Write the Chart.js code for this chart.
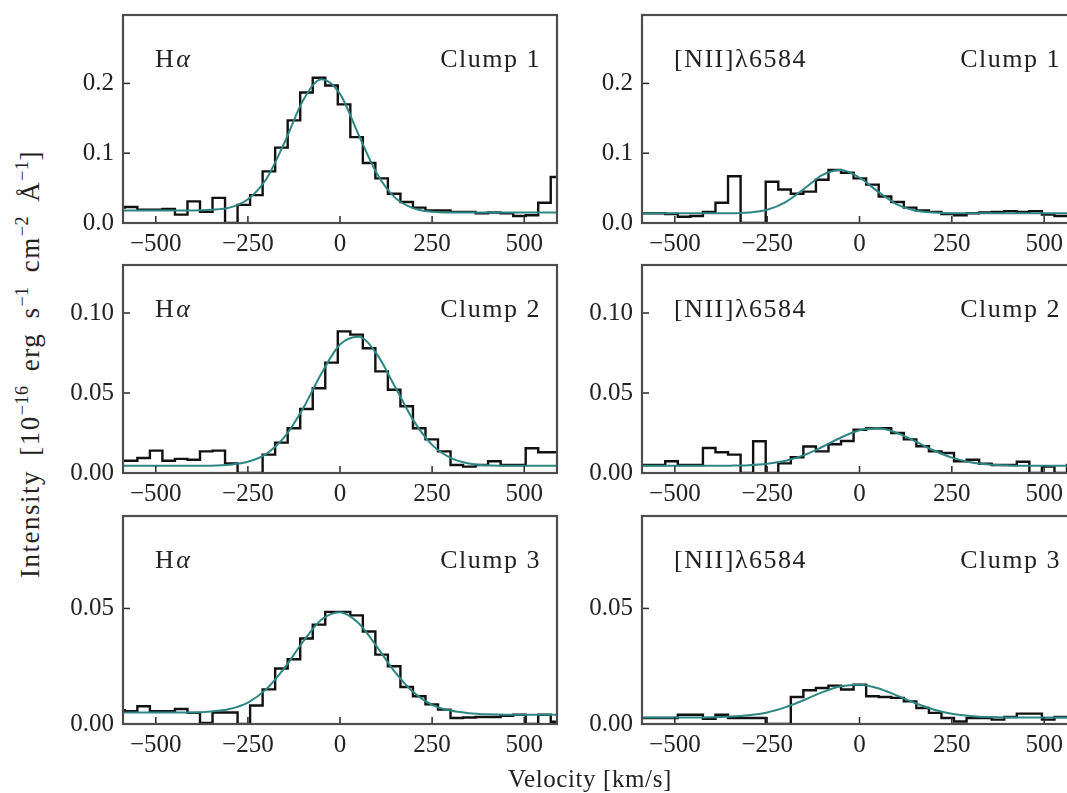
<!DOCTYPE html>
<html>
<head>
<meta charset="utf-8">
<script src="https://cdn.jsdelivr.net/npm/chart.js@4.4.1/dist/chart.umd.min.js"></script>
<style>
  html, body { margin: 0; padding: 0; background: #fff; overflow: hidden; }
  #fig { position: relative; width: 1067px; height: 793px; overflow: hidden; background: #fff; }
  #fig canvas { position: absolute; }
  .title { position: absolute; font-family: 'Liberation Serif', serif; font-size: 25px; color: #222; white-space: nowrap; }
  #ytitle { left: 30px; top: 364px; font-size: 27px; letter-spacing: 1.5px; word-spacing: 6px; transform: translate(-50%, -50%) rotate(-90deg); }
  #xtitle { left: 590px; top: 779px; letter-spacing: 0.6px; transform: translate(-50%, -50%); }
  .title sup { font-size: 18px; vertical-align: 11px; line-height: 0; letter-spacing: 0.5px; }
</style>
</head>
<body>
<div id="fig">
  <canvas id="c1"></canvas>
  <canvas id="c2"></canvas>
  <canvas id="c3"></canvas>
  <canvas id="c4"></canvas>
  <canvas id="c5"></canvas>
  <canvas id="c6"></canvas>
  <div class="title" id="ytitle">Intensity [10<sup>−16</sup> erg s<sup>−1</sup> cm<sup>−2</sup> Å<sup>−1</sup>]</div>
  <div class="title" id="xtitle">Velocity [km/s]</div>
</div>
<script>
// bin edges (km/s) of the spectra, Halpha column and [NII] column
var haEdges = [-618, -584, -550, -516, -482, -448, -414, -380, -346, -312, -278, -244, -210, -176, -142, -108, -74, -40, -6, 28, 62, 96, 130, 164, 198, 232, 266, 300, 334, 368, 402, 436, 470, 504, 538, 572, 606];
var niiEdges = [-628, -594, -560, -526, -492, -458, -424, -390, -356, -322, -288, -254, -220, -186, -152, -118, -84, -50, -16, 18, 52, 86, 120, 154, 188, 222, 256, 290, 324, 358, 392, 426, 460, 494, 528, 562, 596];

// measured intensity per bin
var haClump1 = [0.022, 0.023, 0.019, 0.019, 0.020, 0.012, 0.031, 0.016, 0.036, 0.0, 0.026, 0.040, 0.074, 0.108, 0.147, 0.187, 0.208, 0.197, 0.170, 0.123, 0.086, 0.064, 0.042, 0.030, 0.022, 0.018, 0.018, 0.016, 0.016, 0.014, 0.015, 0.014, 0.010, 0.011, 0.029, 0.066];
var niiClump1 = [0.013, 0.014, 0.014, 0.013, 0.009, 0.010, 0.016, 0.029, 0.067, 0.0, 0.0, 0.059, 0.048, 0.042, 0.045, 0.062, 0.076, 0.072, 0.064, 0.055, 0.038, 0.030, 0.022, 0.018, 0.016, 0.013, 0.011, 0.014, 0.015, 0.016, 0.017, 0.016, 0.017, 0.012, 0.010, 0.010];
var haClump2 = [0.0077, 0.0077, 0.0094, 0.014, 0.0077, 0.0088, 0.0083, 0.0135, 0.014, 0.006, 0.0, 0.0, 0.0115, 0.019, 0.028, 0.040, 0.053, 0.069, 0.0885, 0.0865, 0.078, 0.0635, 0.052, 0.0417, 0.028, 0.021, 0.0135, 0.005, 0.004, 0.005, 0.0073, 0.005, 0.005, 0.0155, 0.013, 0.013];
var niiClump2 = [0.005, 0.005, 0.005, 0.0073, 0.005, 0.005, 0.0156, 0.013, 0.0115, 0.0, 0.0198, 0.0, 0.006, 0.0098, 0.0166, 0.0135, 0.018, 0.020, 0.027, 0.028, 0.028, 0.025, 0.021, 0.0167, 0.0135, 0.0125, 0.0073, 0.0083, 0.0058, 0.005, 0.005, 0.007, 0.0, 0.004, 0.0, 0.005];
var haClump3 = [0.006, 0.0055, 0.0077, 0.0055, 0.0055, 0.0065, 0.0048, 0.0005, 0.005, 0.005, 0.0, 0.008, 0.015, 0.024, 0.028, 0.037, 0.043, 0.0485, 0.0485, 0.047, 0.040, 0.030, 0.025, 0.016, 0.012, 0.0085, 0.0062, 0.0026, 0.0028, 0.003, 0.003, 0.0035, 0.004, 0.0, 0.004, 0.001];
var niiClump3 = [0.0026, 0.0026, 0.0026, 0.0026, 0.004, 0.004, 0.0022, 0.004, 0.0026, 0.0026, 0.0026, 0.0, 0.0, 0.0117, 0.0146, 0.0156, 0.0166, 0.0149, 0.017, 0.012, 0.0117, 0.0113, 0.0098, 0.0069, 0.0048, 0.0026, 0.0011, 0.0026, 0.0026, 0.0019, 0.003, 0.0045, 0.0045, 0.0019, 0.003, 0.003];

// fitted profiles, read at these velocities
var fitVel = [-600, -550, -500, -450, -400, -350, -300, -250, -200, -150, -100, -50, 0, 50, 100, 150, 200, 250, 300, 350, 400, 450, 500, 550, 600];
var haFit1 = [0.018, 0.018, 0.018, 0.018, 0.018, 0.019, 0.022, 0.034, 0.063, 0.116, 0.176, 0.206, 0.185, 0.127, 0.071, 0.036, 0.021, 0.016, 0.015, 0.015, 0.015, 0.015, 0.015, 0.015, 0.015];
var niiFit1 = [0.014, 0.014, 0.014, 0.014, 0.014, 0.014, 0.015, 0.019, 0.030, 0.049, 0.069, 0.076, 0.065, 0.045, 0.027, 0.018, 0.015, 0.014, 0.014, 0.014, 0.014, 0.014, 0.014, 0.014, 0.014];
var haFit2 = [0.0045, 0.0045, 0.0045, 0.0045, 0.0045, 0.0046, 0.0052, 0.007, 0.012, 0.0227, 0.0405, 0.0624, 0.0803, 0.0852, 0.0743, 0.0536, 0.0326, 0.0176, 0.0095, 0.006, 0.0048, 0.0045, 0.0045, 0.0045, 0.0045];
var niiFit2 = [0.0045, 0.0045, 0.0045, 0.0045, 0.0045, 0.0046, 0.0049, 0.0058, 0.0077, 0.0112, 0.0164, 0.0222, 0.0267, 0.0279, 0.0252, 0.0199, 0.0142, 0.0096, 0.0067, 0.0053, 0.0048, 0.0045, 0.0045, 0.0045, 0.0045];
var haFit3 = [0.005, 0.005, 0.005, 0.005, 0.005, 0.0054, 0.0065, 0.0093, 0.0151, 0.0244, 0.0357, 0.0452, 0.0484, 0.0437, 0.0335, 0.0223, 0.0136, 0.0083, 0.0058, 0.0047, 0.0042, 0.004, 0.004, 0.004, 0.004];
var niiFit3 = [0.0028, 0.0028, 0.0028, 0.0028, 0.0029, 0.0032, 0.0038, 0.005, 0.0073, 0.0104, 0.0138, 0.0163, 0.017, 0.0155, 0.0124, 0.0091, 0.0063, 0.0044, 0.0035, 0.003, 0.0028, 0.0028, 0.0028, 0.0028, 0.0028];

var lineNames = ['Hα', '[NII]λ6584'];
var clumpNames = ['Clump 1', 'Clump 2', 'Clump 3'];

// axis limits per row
var rowMax = [0.298, 0.13, 0.09];
var rowStep = [0.1, 0.05, 0.05];
var rowDigits = [1, 2, 2];

// page layout
var colLeft = [123, 642];
var plotW = [434, 435];
var rowTop = [15, 265, 516];
var plotH = 208;
var yW = 70, xH = 42, pad = 2;

var panels = [
  { id: 'c1', col: 0, row: 0, edges: haEdges, hist: haClump1, fit: haFit1 },
  { id: 'c2', col: 1, row: 0, edges: niiEdges, hist: niiClump1, fit: niiFit1 },
  { id: 'c3', col: 0, row: 1, edges: haEdges, hist: haClump2, fit: haFit2 },
  { id: 'c4', col: 1, row: 1, edges: niiEdges, hist: niiClump2, fit: niiFit2 },
  { id: 'c5', col: 0, row: 2, edges: haEdges, hist: haClump3, fit: haFit3 },
  { id: 'c6', col: 1, row: 2, edges: niiEdges, hist: niiClump3, fit: niiFit3 }
];

Chart.defaults.font.family = "'Liberation Serif', serif";
Chart.defaults.font.size = 25;
Chart.defaults.color = '#222';

// frame, inward ticks and panel labels
var panelDeco = {
  id: 'panelDeco',
  afterDatasetsDraw: function(chart) {
    var ctx = chart.ctx, a = chart.chartArea;
    var sx = chart.scales.x, sy = chart.scales.y;
    var o = chart.options.plugins.panelDeco;
    ctx.save();
    ctx.strokeStyle = '#2a2a2a';
    ctx.lineWidth = 1.5;
    sx.ticks.forEach(function(t) {
      var px = sx.getPixelForValue(t.value);
      ctx.beginPath(); ctx.moveTo(px, a.bottom); ctx.lineTo(px, a.bottom - 7); ctx.stroke();
    });
    sy.ticks.forEach(function(t) {
      var py = sy.getPixelForValue(t.value);
      ctx.beginPath(); ctx.moveTo(a.left, py); ctx.lineTo(a.left + 7, py); ctx.stroke();
    });
    ctx.strokeStyle = '#4d4d4d';
    ctx.lineWidth = 2.2;
    ctx.strokeRect(a.left, a.top, a.right - a.left, a.bottom - a.top);

    ctx.fillStyle = '#222';
    ctx.textBaseline = 'alphabetic';
    if ('letterSpacing' in ctx) { ctx.letterSpacing = '1.5px'; }
    var base = a.top + 52;
    var x = a.left + 32;
    ctx.font = "26px 'Liberation Serif'";
    ctx.textAlign = 'left';
    if (o.line === 'Hα') {
      ctx.fillText('H', x, base);
      x += ctx.measureText('H').width + 1;
      ctx.font = "italic 26px 'Liberation Serif'";
      ctx.fillText('α', x, base);
    } else {
      ctx.fillText(o.line, x, base);
    }
    ctx.font = "26px 'Liberation Serif'";
    ctx.textAlign = 'right';
    ctx.fillText(o.clump, a.right - 16, base);
    ctx.restore();
  }
};

function stepPoints(edges, vals) {
  return edges.map(function(e, i) {
    return { x: e, y: vals[Math.min(i, vals.length - 1)] };
  });
}

function linePoints(xs, ys) {
  return xs.map(function(v, i) { return { x: v, y: ys[i] }; });
}

panels.forEach(function(p) {
  var canvas = document.getElementById(p.id);
  canvas.width = yW + plotW[p.col] + pad;
  canvas.height = pad + plotH + xH;
  canvas.style.left = (colLeft[p.col] - yW) + 'px';
  canvas.style.top = (rowTop[p.row] - pad) + 'px';

  new Chart(canvas, {
    type: 'line',
    data: {
      datasets: [
        {
          label: 'fit',
          data: linePoints(fitVel, p.fit),
          borderColor: '#2c8783',
          borderWidth: 2,
          pointRadius: 0,
          tension: 0.4,
          cubicInterpolationMode: 'monotone',
          fill: false
        },
        {
          label: 'spectrum',
          data: stepPoints(p.edges, p.hist),
          borderColor: '#111',
          borderWidth: 2.4,
          pointRadius: 0,
          stepped: 'before',
          fill: false
        }
      ]
    },
    options: {
      responsive: false,
      animation: false,
      devicePixelRatio: 1,
      layout: { padding: { top: pad, right: pad, left: 0, bottom: 0 } },
      plugins: {
        legend: { display: false },
        tooltip: { enabled: false },
        panelDeco: { line: lineNames[p.col], clump: clumpNames[p.row] }
      },
      scales: {
        x: {
          type: 'linear',
          min: -589,
          max: 589,
          grid: { display: false, drawTicks: false },
          border: { display: false },
          ticks: {
            stepSize: 250,
            includeBounds: false,
            padding: 6,
            maxRotation: 0,
            autoSkip: false,
            callback: function(v) { return String(v).replace('-', '\u2212'); }
          },
          afterFit: function(s) { s.height = xH; s.paddingLeft = 0; s.paddingRight = 0; }
        },
        y: {
          type: 'linear',
          min: 0,
          max: rowMax[p.row],
          grid: { display: false, drawTicks: false },
          border: { display: false },
          ticks: {
            stepSize: rowStep[p.row],
            includeBounds: false,
            padding: 9,
            callback: function(v) { return v.toFixed(rowDigits[p.row]); }
          },
          afterFit: function(s) { s.width = yW; s.paddingTop = 0; s.paddingBottom = 0; }
        }
      }
    },
    plugins: [panelDeco]
  });
});
</script>
</body>
</html>
